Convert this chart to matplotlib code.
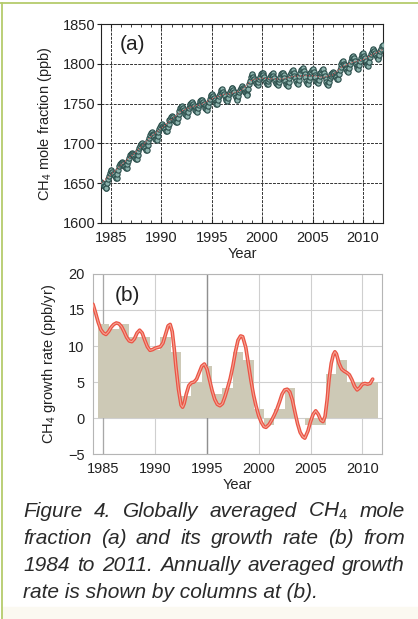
import matplotlib
matplotlib.use("Agg")
import matplotlib.pyplot as plt
from matplotlib.lines import Line2D
from matplotlib.patches import Rectangle

plt.rcParams['font.family'] = ['Liberation Sans', 'DejaVu Sans']
plt.rcParams['mathtext.fontset'] = 'custom'
plt.rcParams['mathtext.rm'] = 'Liberation Sans'
plt.rcParams['mathtext.it'] = 'Liberation Sans:italic'

# (a) monthly CH4 mole fraction (ppb), one row per year, Jan..Dec
years_a = list(range(1984, 2012))
ch4_monthly = [
    [1652, 1650, 1649, 1647, 1646, 1644, 1644, 1650, 1655, 1659, 1663, 1665],
    [1666, 1664, 1662, 1661, 1659, 1657, 1657, 1662, 1667, 1671, 1674, 1676],
    [1677, 1675, 1674, 1672, 1671, 1669, 1669, 1674, 1678, 1682, 1685, 1687],
    [1688, 1687, 1685, 1684, 1682, 1681, 1681, 1686, 1690, 1694, 1697, 1699],
    [1700, 1698, 1697, 1695, 1694, 1692, 1692, 1698, 1703, 1707, 1711, 1713],
    [1714, 1712, 1710, 1708, 1706, 1705, 1704, 1709, 1714, 1718, 1721, 1723],
    [1724, 1722, 1721, 1719, 1718, 1716, 1716, 1721, 1725, 1729, 1731, 1733],
    [1734, 1733, 1731, 1730, 1728, 1727, 1727, 1732, 1737, 1741, 1744, 1746],
    [1747, 1745, 1742, 1740, 1737, 1736, 1735, 1739, 1744, 1747, 1749, 1751],
    [1752, 1750, 1747, 1745, 1742, 1741, 1740, 1744, 1748, 1751, 1753, 1754],
    [1755, 1752, 1750, 1747, 1745, 1743, 1742, 1747, 1752, 1756, 1759, 1761],
    [1762, 1759, 1757, 1754, 1752, 1750, 1749, 1754, 1759, 1762, 1765, 1767],
    [1768, 1765, 1762, 1759, 1756, 1754, 1753, 1757, 1762, 1765, 1767, 1769],
    [1770, 1767, 1764, 1761, 1758, 1756, 1755, 1759, 1764, 1767, 1769, 1771],
    [1772, 1770, 1768, 1765, 1763, 1762, 1761, 1768, 1774, 1779, 1783, 1786],
    [1787, 1784, 1781, 1779, 1776, 1774, 1773, 1777, 1781, 1784, 1787, 1788],
    [1789, 1786, 1783, 1780, 1777, 1775, 1774, 1778, 1781, 1784, 1786, 1787],
    [1788, 1785, 1782, 1779, 1776, 1774, 1773, 1777, 1781, 1784, 1787, 1788],
    [1789, 1786, 1782, 1779, 1775, 1773, 1772, 1777, 1782, 1786, 1789, 1791],
    [1792, 1789, 1785, 1782, 1778, 1776, 1775, 1780, 1785, 1789, 1792, 1794],
    [1795, 1791, 1787, 1783, 1779, 1776, 1775, 1780, 1784, 1788, 1790, 1792],
    [1793, 1790, 1786, 1783, 1779, 1777, 1776, 1780, 1785, 1788, 1790, 1792],
    [1793, 1789, 1785, 1781, 1777, 1774, 1773, 1777, 1782, 1785, 1787, 1789],
    [1790, 1788, 1786, 1785, 1783, 1781, 1781, 1787, 1792, 1796, 1800, 1802],
    [1803, 1800, 1798, 1795, 1793, 1791, 1790, 1795, 1800, 1804, 1807, 1809],
    [1810, 1807, 1804, 1800, 1797, 1795, 1794, 1799, 1804, 1807, 1810, 1812],
    [1813, 1810, 1807, 1803, 1800, 1798, 1797, 1802, 1808, 1812, 1815, 1817],
    [1818, 1816, 1813, 1811, 1808, 1807, 1806, 1811, 1816, 1819, 1822, 1824],
]
# deseasonalised trend, value at start of each year
trend_years = list(range(1984, 2013))
trend_vals = [1650, 1661, 1673, 1684, 1696, 1709, 1719, 1730, 1741, 1746,
              1749, 1756, 1761, 1763, 1767, 1780, 1782, 1781, 1781, 1784,
              1785, 1785, 1783, 1786, 1797, 1802, 1805, 1812, 1818]

# (b) annual mean growth rate (ppb/yr), columns
bar_years = list(range(1985, 2012))
bar_rates = [13.1, 12.4, 13.1, 11.2, 11.2, 9.4, 11.2, 9.1, 3.0, 5.0,
             7.2, 3.4, 4.1, 9.1, 8.1, 1.2, -1.0, 1.2, 4.1, 0.0,
             -1.0, -1.0, 6.1, 8.1, 5.0, 5.0, 5.0]

# (b) smoothed growth rate curve
rate_t = [1984.00, 1984.25, 1984.50, 1984.75, 1985.00, 1985.25, 1985.50, 1985.75,
          1986.00, 1986.25, 1986.50, 1986.75, 1987.00, 1987.25, 1987.50, 1987.75,
          1988.00, 1988.25, 1988.50, 1988.75, 1989.00, 1989.25, 1989.50, 1989.75,
          1990.00, 1990.25, 1990.50, 1990.75, 1991.00, 1991.25, 1991.45, 1991.65,
          1991.85, 1992.00, 1992.25, 1992.50, 1992.65, 1992.80, 1993.00, 1993.25,
          1993.50, 1993.75, 1994.00, 1994.25, 1994.50, 1994.75, 1995.00, 1995.25,
          1995.50, 1995.75, 1996.00, 1996.25, 1996.50, 1996.75, 1997.00, 1997.25,
          1997.50, 1997.75, 1998.00, 1998.25, 1998.45, 1998.75, 1999.00, 1999.25,
          1999.50, 1999.75, 2000.00, 2000.25, 2000.50, 2000.70, 2001.00, 2001.25,
          2001.50, 2001.75, 2002.00, 2002.25, 2002.50, 2002.75, 2003.00, 2003.25,
          2003.50, 2003.75, 2004.00, 2004.25, 2004.45, 2004.75, 2005.00, 2005.25,
          2005.50, 2005.75, 2006.00, 2006.20, 2006.40, 2006.60, 2006.80, 2007.00,
          2007.20, 2007.35, 2007.50, 2007.75, 2008.00, 2008.25, 2008.50, 2008.75,
          2009.00, 2009.25, 2009.50, 2009.75, 2010.00, 2010.25, 2010.50, 2010.75,
          2011.00]
rate_v = [15.8, 14.6, 13.3, 12.3, 11.8, 11.6, 12.0, 12.6,
          13.0, 13.2, 13.1, 12.7, 12.0, 11.2, 10.7, 10.6,
          11.0, 11.8, 12.2, 11.8, 10.8, 9.9, 9.4, 9.5,
          9.7, 9.8, 9.9, 10.4, 11.6, 12.8, 13.0, 12.0,
          9.5, 7.2, 4.0, 1.8, 1.5, 2.0, 3.3, 4.5,
          4.9, 5.0, 5.4, 6.3, 7.2, 7.5, 6.8, 5.3,
          3.8, 2.6, 1.9, 1.7, 2.0, 3.0, 4.2, 5.5,
          7.2, 9.2, 10.8, 11.4, 11.3, 9.8, 7.5, 5.2,
          3.2, 1.6, 0.3, -0.6, -1.2, -1.3, -0.9, -0.3,
          0.4, 1.2, 2.2, 3.3, 3.9, 4.0, 3.6, 2.5,
          0.8, -0.8, -2.0, -2.6, -2.8, -1.8, -0.5, 0.5,
          1.0, 0.5, -0.3, -0.5, 0.2, 2.5, 5.5, 7.6,
          8.8, 9.2, 8.9, 7.6, 6.8, 6.5, 6.3, 6.0,
          5.3, 4.4, 3.9, 4.2, 4.7, 4.8, 4.7, 4.8,
          5.4]

caption = [
    "Figure 4. Globally averaged CH$_\\mathit{4}$ mole",
    "fraction (a) and its growth rate (b) from",
    "1984 to 2011. Annually averaged growth",
    "rate is shown by columns at (b).",
]

W, H = 418, 619
fig = plt.figure(figsize=(W / 100, H / 100), dpi=100)
fig.patch.set_facecolor('white')
FS = 10.5
TXT = '#222222'


def px_axes(left, top, right, bottom):
    return fig.add_axes([left / W, 1 - bottom / H, (right - left) / W, (bottom - top) / H])


# ---- panel (a)
ax1 = px_axes(101, 24, 383, 223)
t_a = []
v_a = []
for yr, row in zip(years_a, ch4_monthly):
    for m, v in enumerate(row):
        t_a.append(yr + (m + 0.5) / 12)
        v_a.append(v)
ax1.plot(t_a, v_a, 'o', ms=3.8, mfc='#8db3ad', mec='#2b4e4b', mew=0.8, zorder=3)
ax1.plot(trend_years, trend_vals, ':', color='#e06060', lw=0.8, zorder=4)
ax1.set_xlim(1984, 2012)
ax1.set_ylim(1600, 1850)
ax1.set_xticks(range(1985, 2011, 5))
ax1.set_xticks(range(1984, 2013), minor=True)
ax1.set_yticks(range(1600, 1851, 50))
ax1.grid(True, which='major', color='#333333', lw=0.7, linestyle=(0, (3, 1.2)))
ax1.tick_params(axis='x', which='both', direction='in', top=True, length=3, labelsize=FS,
                colors=TXT, pad=6)
ax1.tick_params(axis='x', which='minor', length=2)
ax1.tick_params(axis='y', direction='out', length=3, labelsize=FS, colors=TXT, pad=1)
for s in ax1.spines.values():
    s.set_color(TXT)
    s.set_linewidth(0.8)
ax1.set_xlabel('Year', fontsize=FS, color=TXT, labelpad=1)
ax1.set_ylabel('CH$_4$ mole fraction (ppb)', fontsize=FS, color=TXT, labelpad=6)
ax1.text(0.065, 0.895, '(a)', transform=ax1.transAxes, fontsize=15, color=TXT,
         va='center', ha='left')

# ---- panel (b)
ax2 = px_axes(93, 274, 382, 454)
ax2.set_axisbelow(True)
ax2.bar(bar_years, bar_rates, width=1.0, color='#cdc9b6', zorder=2, lw=0)
ax2.plot(rate_t, rate_v, '-', color='#ea5445', lw=2.6, zorder=4, solid_capstyle='round')
ax2.plot(rate_t, rate_v, '-', color='#f6a292', lw=0.8, zorder=5)
ax2.set_xlim(1984, 2011.9)
ax2.set_ylim(-5, 20)
ax2.set_xticks(range(1985, 2011, 5))
ax2.set_yticks(range(-5, 21, 5))
ax2.grid(True, color='#cfcfcf', lw=0.8)
ax2.axvline(1995, color='#8f8f8f', lw=1.0, zorder=1)
ax2.axvline(1985, color='#a8a8a8', lw=0.9, zorder=1)
ax2.tick_params(length=0, labelsize=FS, colors=TXT, pad=6)
for s in ax2.spines.values():
    s.set_color('#b5b5b5')
    s.set_linewidth(0.8)
ax2.set_xlabel('Year', fontsize=FS, color=TXT, labelpad=1)
ax2.set_ylabel('CH$_4$ growth rate (ppb/yr)', fontsize=FS, color=TXT, labelpad=7)
ax2.text(0.075, 0.88, '(b)', transform=ax2.transAxes, fontsize=15, color=TXT,
         va='center', ha='left')

# ---- caption, justified like the original (last line left-aligned)
cap_font = dict(fontsize=15, fontstyle='italic', color='#2a2a2a',
                va='baseline', ha='left')
x_left, x_right = 23, 405
baselines = [517, 544, 571, 598]
renderer = fig.canvas.get_renderer()
for i, (line, yb) in enumerate(zip(caption, baselines)):
    if i == len(caption) - 1:
        fig.text(x_left / W, 1 - yb / H, line, **cap_font)
        continue
    words = line.split(' ')
    objs = [fig.text(0, 1 - yb / H, w, **cap_font) for w in words]
    widths = [o.get_window_extent(renderer).width for o in objs]
    gap = (x_right - x_left - sum(widths)) / (len(words) - 1)
    x = x_left
    for o, wd in zip(objs, widths):
        o.set_x(x / W)
        x += wd + gap

# frame decoration
fig.add_artist(Rectangle((2 / W, 0), 1, 12 / H, transform=fig.transFigure,
                         color='#fbf9f1', zorder=-1))
fig.add_artist(Line2D([0, 1], [1 - 3 / H, 1 - 3 / H], transform=fig.transFigure,
                      color='#b5cc6c', lw=1.3))
fig.add_artist(Line2D([2 / W, 2 / W], [0, 1 - 3 / H], transform=fig.transFigure,
                      color='#b5cc6c', lw=1.3))

fig.savefig('out.png', dpi=100)
